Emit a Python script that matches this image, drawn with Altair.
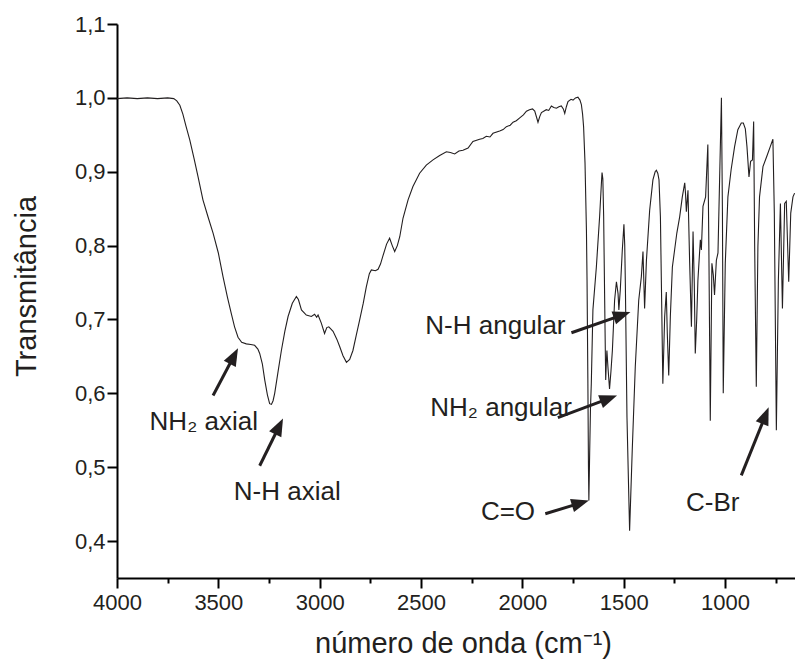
import math
import altair as alt
import pandas as pd

# ---------------- data ----------------
wavenumber = [
    4000, 3950, 3900, 3850, 3800, 3750, 3720, 3705, 3690, 3675, 3660, 3641, 3620, 3600,
    3576, 3550, 3526, 3500, 3477, 3455, 3436, 3420, 3403, 3385, 3362, 3340, 3321, 3305,
    3296, 3283, 3271, 3258, 3247, 3238, 3230, 3222, 3205, 3189, 3172, 3156, 3135, 3115,
    3105, 3090, 3066, 3041, 3025, 3015, 3008, 2992, 2976, 2965, 2955, 2934, 2915, 2901,
    2885, 2868, 2852, 2836, 2820, 2803, 2785, 2770, 2755, 2745, 2725, 2712, 2700, 2688,
    2670, 2655, 2642, 2630, 2617, 2605, 2589, 2564, 2540, 2507, 2474, 2441, 2408, 2375,
    2355, 2334, 2313, 2293, 2268, 2244, 2211, 2195, 2178, 2160, 2145, 2112, 2095, 2079,
    2060, 2046, 2030, 2013, 1995, 1980, 1965, 1950, 1939, 1923, 1914, 1906, 1882, 1870,
    1857, 1845, 1832, 1820, 1808, 1798, 1791, 1783, 1775, 1760, 1750, 1738, 1726, 1716,
    1709, 1703, 1698, 1691, 1684, 1681, 1677, 1674, 1672, 1668, 1664, 1660, 1652, 1635,
    1619, 1610, 1607, 1603, 1599, 1594, 1589, 1586, 1583, 1578, 1570, 1563, 1556, 1545,
    1536, 1528, 1524, 1517, 1507, 1499, 1495, 1492, 1484, 1471, 1458, 1443, 1426, 1413,
    1405, 1397, 1388, 1372, 1356, 1345, 1339, 1332, 1326, 1319, 1313, 1307, 1298, 1290,
    1285, 1278, 1270, 1260, 1249, 1238, 1224, 1211, 1199, 1195, 1191, 1183, 1175, 1166,
    1158, 1152, 1147, 1140, 1134, 1122, 1117, 1109, 1096, 1085, 1080, 1073, 1065, 1058,
    1052, 1043, 1035, 1027, 1018, 1013, 1009, 999, 986, 970, 953, 937, 920, 910,
    900, 892, 882, 874, 865, 859, 854, 846, 838, 830, 813, 794, 777, 764,
    757, 747, 737, 727, 717, 706, 698, 686, 676, 665, 657,
]
transmittance = [
    0.999, 1.000, 0.999, 1.000, 0.999, 1.000, 0.999, 0.996, 0.990, 0.978, 0.962, 0.943, 0.918, 0.893,
    0.862, 0.838, 0.817, 0.790, 0.758, 0.730, 0.708, 0.690, 0.676, 0.669, 0.667, 0.666, 0.665, 0.660,
    0.654, 0.640, 0.618, 0.598, 0.586, 0.585, 0.590, 0.600, 0.630, 0.658, 0.684, 0.704, 0.722, 0.731,
    0.727, 0.713, 0.706, 0.704, 0.707, 0.703, 0.706, 0.695, 0.681, 0.689, 0.690, 0.684, 0.673, 0.663,
    0.651, 0.642, 0.646, 0.658, 0.678, 0.699, 0.722, 0.744, 0.762, 0.767, 0.766, 0.768, 0.775, 0.786,
    0.802, 0.810, 0.800, 0.792, 0.800, 0.812, 0.837, 0.862, 0.880, 0.898, 0.909, 0.916, 0.922, 0.927,
    0.926, 0.924, 0.928, 0.929, 0.932, 0.941, 0.944, 0.945, 0.948, 0.947, 0.952, 0.955, 0.957, 0.961,
    0.963, 0.967, 0.969, 0.973, 0.977, 0.982, 0.984, 0.985, 0.982, 0.967, 0.975, 0.980, 0.984, 0.983,
    0.989, 0.987, 0.986, 0.988, 0.989, 0.985, 0.979, 0.988, 0.995, 0.998, 0.997, 1.000, 1.001, 0.997,
    0.991, 0.978, 0.961, 0.912, 0.821, 0.753, 0.620, 0.500, 0.455, 0.520, 0.580, 0.613, 0.713, 0.771,
    0.839, 0.885, 0.899, 0.890, 0.839, 0.726, 0.618, 0.640, 0.658, 0.636, 0.606, 0.630, 0.658, 0.726,
    0.751, 0.735, 0.713, 0.740, 0.794, 0.829, 0.800, 0.749, 0.568, 0.414, 0.523, 0.636, 0.726, 0.758,
    0.792, 0.715, 0.780, 0.848, 0.889, 0.900, 0.902, 0.898, 0.889, 0.839, 0.726, 0.613, 0.704, 0.737,
    0.681, 0.624, 0.704, 0.771, 0.794, 0.817, 0.839, 0.866, 0.885, 0.870, 0.846, 0.875, 0.780, 0.690,
    0.819, 0.750, 0.654, 0.700, 0.753, 0.808, 0.794, 0.853, 0.866, 0.937, 0.798, 0.563, 0.776, 0.760,
    0.733, 0.780, 0.790, 0.889, 1.000, 0.844, 0.600, 0.776, 0.866, 0.903, 0.934, 0.957, 0.966, 0.966,
    0.958, 0.934, 0.893, 0.914, 0.916, 0.968, 0.799, 0.609, 0.799, 0.866, 0.907, 0.921, 0.934, 0.944,
    0.844, 0.550, 0.753, 0.857, 0.715, 0.857, 0.860, 0.751, 0.844, 0.866, 0.871,
]

label_text = ["NH\u2082 axial", "N-H axial", "N-H angular", "NH\u2082 angular", "C=O", "C-Br"]
label_x = [3572, 3160, 2133, 2105, 2071, 1061]
label_y = [0.550, 0.455, 0.681, 0.569, 0.429, 0.441]

arrow_tail_x = [3526, 3296, 1758, 1825, 1887, 920]
arrow_tail_y = [0.597, 0.502, 0.682, 0.567, 0.437, 0.489]
arrow_tip_x = [3403, 3181, 1467, 1533, 1672, 785]
arrow_tip_y = [0.661, 0.566, 0.710, 0.597, 0.455, 0.581]

x_ticks = [4000, 3750, 3500, 3250, 3000, 2750, 2500, 2250, 2000, 1750, 1500, 1250, 1000, 750]
y_ticks = [0.4, 0.45, 0.5, 0.55, 0.6, 0.65, 0.7, 0.75, 0.8, 0.85, 0.9, 0.95, 1.0, 1.05, 1.1]

# ---------------- layout ----------------
W, H = 678, 554
XMIN, XMAX = 655, 4000
YMIN, YMAX = 0.35, 1.1
INK = "#231f20"
FONT = "Liberation Sans"

sx = W / (XMAX - XMIN)   # px per unit (x axis reversed)
sy = H / (YMAX - YMIN)

spec = pd.DataFrame({"w": wavenumber, "t": transmittance})
labels = pd.DataFrame({"text": label_text, "x": label_x, "y": label_y})

rows = []
for tx, ty, hx, hy in zip(arrow_tail_x, arrow_tail_y, arrow_tip_x, arrow_tip_y):
    dx = -(hx - tx) * sx
    dy = -(hy - ty) * sy
    L = math.hypot(dx, dy)
    ux, uy = dx / L, dy / L
    ang = math.degrees(math.atan2(dx, -dy)) % 360
    back = 9.0
    ex = hx - (-(ux * back) / sx)
    ey = hy - (-(uy * back) / sy)
    rows.append({"tx": tx, "ty": ty, "ex": ex, "ey": ey, "hx": hx, "hy": hy, "ang": ang})
arrows = pd.DataFrame(rows)

xscale = alt.Scale(domain=[XMIN, XMAX], reverse=True, nice=False, zero=False)
yscale = alt.Scale(domain=[YMIN, YMAX], nice=False, zero=False)

x_axis = alt.Axis(
    values=x_ticks,
    labelExpr="datum.value % 500 == 0 ? format(datum.value, 'd') : ''",
    tickSize={"condition": {"test": "datum.value % 500 == 0", "value": 10}, "value": 5},
    labelFlush=False, labelOverlap=False, grid=False,
    labelFontSize=22, labelPadding=4,
    title="número de onda (cm\u207b\u00b9)",
    titleFontSize=29, titleFontWeight="normal",
    titleX=346, titleY=74, titleBaseline="alphabetic", titleAlign="center",
)
y_axis = alt.Axis(
    values=y_ticks,
    labelExpr="(round(datum.value*20) % 2 == 0) ? replace(format(datum.value, '.1f'), '.', ',') : ''",
    tickSize={"condition": {"test": "round(datum.value*20) % 2 == 0", "value": 10}, "value": 5},
    labelFlush=False, labelOverlap=False, grid=False,
    labelFontSize=22, labelPadding=2,
    title="Transmitância",
    titleFontSize=29, titleFontWeight="normal",
    titleX=-82, titleY=262, titleAngle=270, titleBaseline="alphabetic", titleAlign="center",
)

line = alt.Chart(spec).mark_line(color=INK, strokeWidth=1.1).encode(
    x=alt.X("w:Q", scale=xscale, axis=x_axis),
    y=alt.Y("t:Q", scale=yscale, axis=y_axis),
    order="w:Q",
)

shafts = alt.Chart(arrows).mark_rule(color=INK, strokeWidth=3).encode(
    x=alt.X("tx:Q", scale=xscale), y=alt.Y("ty:Q", scale=yscale),
    x2="ex:Q", y2="ey:Q",
)

heads = alt.Chart(arrows).mark_point(
    shape="M0,0L-1.7,4.4L1.7,4.4Z", filled=True, color=INK, opacity=1, size=64, strokeWidth=0,
).encode(
    x=alt.X("hx:Q", scale=xscale), y=alt.Y("hy:Q", scale=yscale),
    angle=alt.Angle("ang:Q", scale=None),
)

texts = alt.Chart(labels).mark_text(
    font=FONT, fontSize=26, color=INK, align="center", baseline="alphabetic",
).encode(
    x=alt.X("x:Q", scale=xscale), y=alt.Y("y:Q", scale=yscale), text="text:N",
)

chart = alt.layer(line, shafts, heads, texts).properties(
    width=W, height=H,
    autosize=alt.AutoSizeParams(type="none"),
    padding={"left": 117, "top": 24, "right": 0, "bottom": 88},
    background="white",
).configure_axis(
    domainColor="black", domainWidth=2, tickColor="black", tickWidth=2,
    labelColor=INK, titleColor=INK, labelFont=FONT, titleFont=FONT,
).configure_view(stroke="transparent")

chart.save("out.html", embed_options={"renderer": "svg", "actions": False})
